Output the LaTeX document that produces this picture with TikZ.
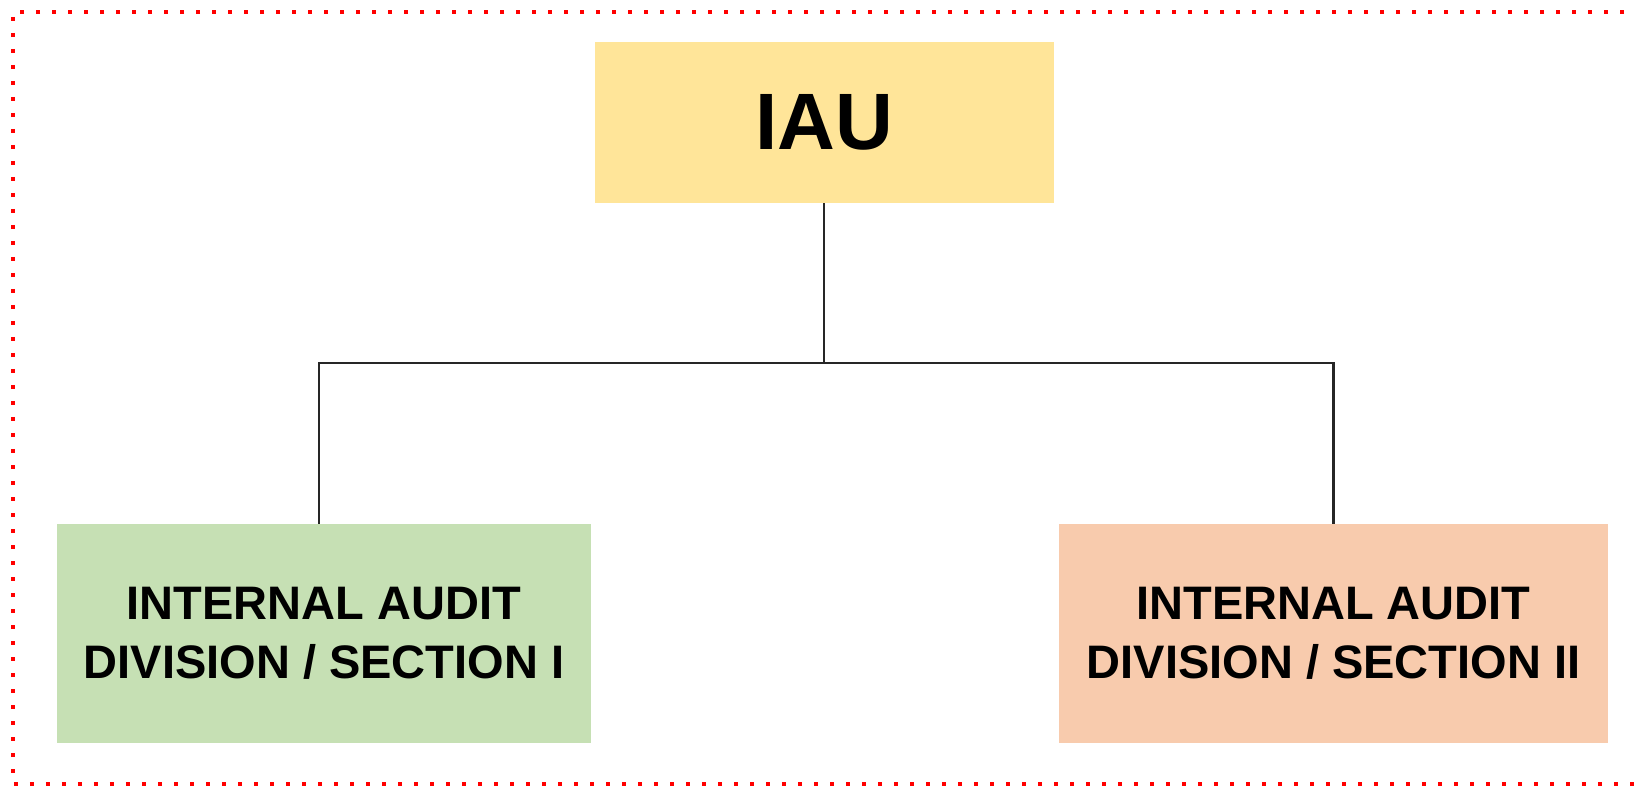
\documentclass[tikz,border=0pt]{standalone}
\usepackage{fontspec}
\setmainfont{Liberation Sans}
\definecolor{headfill}{HTML}{FFE599}
\definecolor{leftfill}{HTML}{C6E0B4}
\definecolor{rightfill}{HTML}{F8CBAD}
\definecolor{linkgray}{HTML}{262626}
\begin{document}
\begin{tikzpicture}[x=1pt,y=-1pt,
  unitbox/.style={inner sep=0pt, align=center, font=\bfseries\fontsize{47}{59}\selectfont},
  link/.style={draw=linkgray, line width=2.8pt},
  frame/.style={draw=red, line width=4pt, dash pattern=on 4pt off 12pt}]
\useasboundingbox (0,0) rectangle (1636,786);
% outer dotted frame (right side runs past the page edge)
\draw[frame] (1640,12) -- (13,12) -- (13,784) -- (1640,784);
% units
\node[unitbox, fill=headfill, minimum width=459pt, minimum height=161pt,
      font=\bfseries\fontsize{80}{90}\selectfont] (iau) at (824.5,122.5) {IAU};
\node[unitbox, fill=leftfill, minimum width=534pt, minimum height=219pt] (secA) at (324,633.5)
  {INTERNAL AUDIT\\DIVISION / SECTION I};
\node[unitbox, fill=rightfill, minimum width=549pt, minimum height=219pt] (secB) at (1333.5,633.5)
  {INTERNAL AUDIT\\DIVISION / SECTION II};
% connectors
\coordinate (hub) at (824,363);
\draw[link] (iau.south -| hub) -- (hub);
\draw[link] (hub) -| ([xshift=-5pt]secA.north);
\draw[link] (hub) -| (secB.north);
\end{tikzpicture}
\end{document}
